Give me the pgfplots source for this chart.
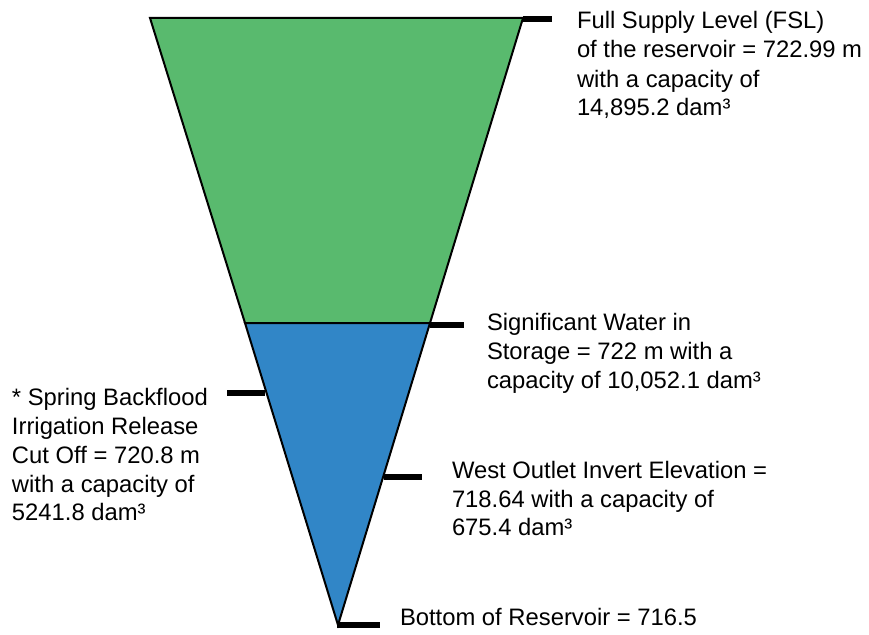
\documentclass[border=0pt]{standalone}
\usepackage{pgfplots}
\pgfplotsset{compat=1.18}
\usepackage{fontspec}
\setmainfont{Liberation Sans}
\definecolor{fslgreen}{HTML}{59BA6E}
\definecolor{storblue}{HTML}{3186C7}
\begin{document}
\begin{tikzpicture}[lbl/.style={inner sep=0pt, outer sep=0pt, anchor=base west, font=\fontsize{23.8}{29}\selectfont}]
\begin{axis}[
  scale only axis, width=869pt, height=634pt,
  xmin=0, xmax=869, ymin=0, ymax=634, y dir=reverse,
  axis lines=none, clip=false,
]
% reservoir zones
\addplot[fill=fslgreen, draw=black, line width=2pt, line join=miter] coordinates {(150,18) (523,18) (430,323) (245,323)} -- cycle;
\addplot[fill=storblue, draw=black, line width=2pt, line join=miter] coordinates {(245,323) (430,323) (338,625)} -- cycle;
% level markers
\addplot[black, line width=6pt] coordinates {(523,19) (552,19)};
\addplot[black, line width=6pt] coordinates {(430,324.5) (464,324.5)};
\addplot[black, line width=6pt] coordinates {(227,393) (265,393)};
\addplot[black, line width=6pt] coordinates {(384,477) (422,477)};
\addplot[black, line width=6pt] coordinates {(337,624.5) (380,624.5)};
% labels
\node[lbl] at (axis cs:577,29) {Full Supply Level (FSL)};
\node[lbl] at (axis cs:577,58) {of the reservoir = 722.99 m};
\node[lbl] at (axis cs:577,87) {with a capacity of};
\node[lbl] at (axis cs:577,115) {14,895.2 dam³};
\node[lbl] at (axis cs:487,330) {Significant Water in};
\node[lbl] at (axis cs:487,359) {Storage = 722 m with a};
\node[lbl] at (axis cs:487,388) {capacity of 10,052.1 dam³};
\node[lbl] at (axis cs:12,405) {* Spring Backflood};
\node[lbl] at (axis cs:12,434) {Irrigation Release};
\node[lbl] at (axis cs:12,463) {Cut Off = 720.8 m};
\node[lbl] at (axis cs:12,492) {with a capacity of};
\node[lbl] at (axis cs:12,520) {5241.8 dam³};
\node[lbl] at (axis cs:452,478) {West Outlet Invert Elevation =};
\node[lbl] at (axis cs:452,507) {718.64 with a capacity of};
\node[lbl] at (axis cs:452,535) {675.4 dam³};
\node[lbl] at (axis cs:400,625) {Bottom of Reservoir = 716.5};
\end{axis}
\pgfresetboundingbox
\path (current axis.south west) rectangle (current axis.north east);
\end{tikzpicture}
\end{document}
